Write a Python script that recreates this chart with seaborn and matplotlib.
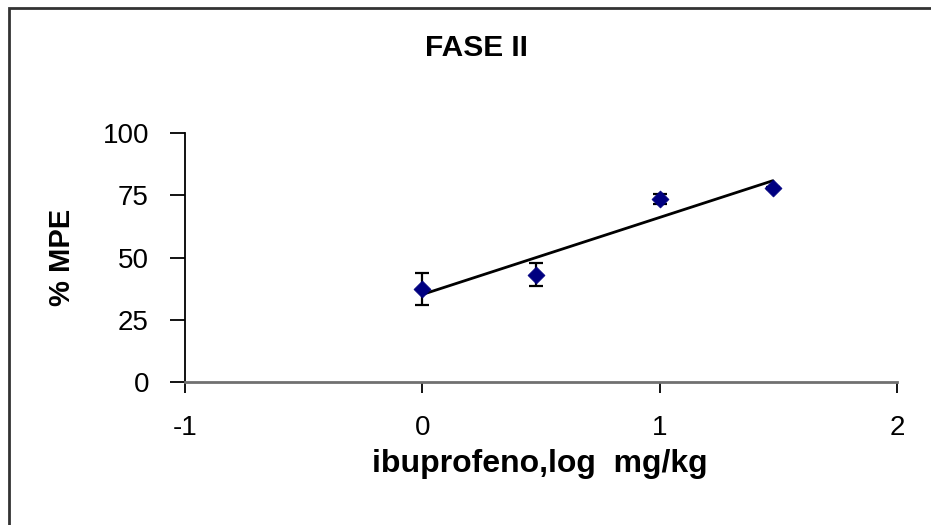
import matplotlib
matplotlib.use("Agg")
import matplotlib.pyplot as plt
from matplotlib.patches import Rectangle
import seaborn as sns
import pandas as pd
import numpy as np

# Data
log_dose = [0.0, 0.477, 1.0, 1.477]
mpe_mean = [37.4, 43.1, 73.4, 78.1]
mpe_err = [6.4, 4.6, 2.0, 0.4]
x_ticks = [-1, 0, 1, 2]
y_ticks = [0, 25, 50, 75, 100]
title = "FASE II"
xlabel = "ibuprofeno,log  mg/kg"
ylabel = "% MPE"

df = pd.DataFrame({"x": log_dose, "y": mpe_mean, "err": mpe_err})

sns.set_style("white")
plt.rcParams["font.family"] = ["Liberation Sans", "DejaVu Sans"]
plt.rcParams["text.color"] = "black"

W, H = 931, 525
fig = plt.figure(figsize=(W / 100, H / 100), dpi=100)
ax = fig.add_axes([185 / W, 1 - 382 / H, (897 - 185) / W, (382 - 133) / H])

# regression line
sns.regplot(data=df, x="x", y="y", scatter=False, ci=None, ax=ax,
            color="black", line_kws={"linewidth": 2})
# error bars
ax.errorbar(df["x"], df["y"], yerr=df["err"], fmt="none", ecolor="black",
            elinewidth=1.6, capsize=5, capthick=1.6, zorder=3)
# markers
sns.scatterplot(data=df, x="x", y="y", ax=ax, marker="D", color="#000080",
                s=75, edgecolor="#000080", linewidth=0.5, zorder=4)

ax.set_xlim(-1, 2)
ax.set_ylim(0, 100)
ax.set_xticks(x_ticks)
ax.set_yticks(y_ticks)
ax.set_xticklabels([str(v) for v in x_ticks])
ax.set_yticklabels([str(v) for v in y_ticks])
ax.set_xlabel("")
ax.set_ylabel("")

for s in ["top", "right"]:
    ax.spines[s].set_visible(False)
ax.spines["left"].set_color("black")
ax.spines["left"].set_linewidth(1.3)
ax.spines["bottom"].set_color("#707070")
ax.spines["bottom"].set_linewidth(2)

ax.tick_params(axis="x", direction="out", length=8, width=1.3, color="black",
               pad=16, labelsize=20, labelcolor="black", bottom=True)
ax.tick_params(axis="y", direction="out", length=11, width=1.3, color="black",
               pad=15, labelsize=20, labelcolor="black", left=True)

fig.text(476 / W, 1 - 48 / H, title, ha="center", va="center",
         fontsize=21.5, fontweight="bold", color="black")
fig.text(62 / W, 1 - 257.5 / H, ylabel, ha="center", va="center",
         rotation=90, fontsize=21, fontweight="bold", color="black")
fig.text(540 / W, 1 - 472 / H, xlabel, ha="center", va="baseline",
         fontsize=23, fontweight="bold", color="black")

# outer chart border (cropped at right and bottom)
fig.patches.append(Rectangle((8.5 / W, -0.2), 1.5, 1.2 - 7.5 / H,
                             transform=fig.transFigure, fill=False,
                             edgecolor="#333333", linewidth=2))

fig.savefig("out.png", dpi=100)
